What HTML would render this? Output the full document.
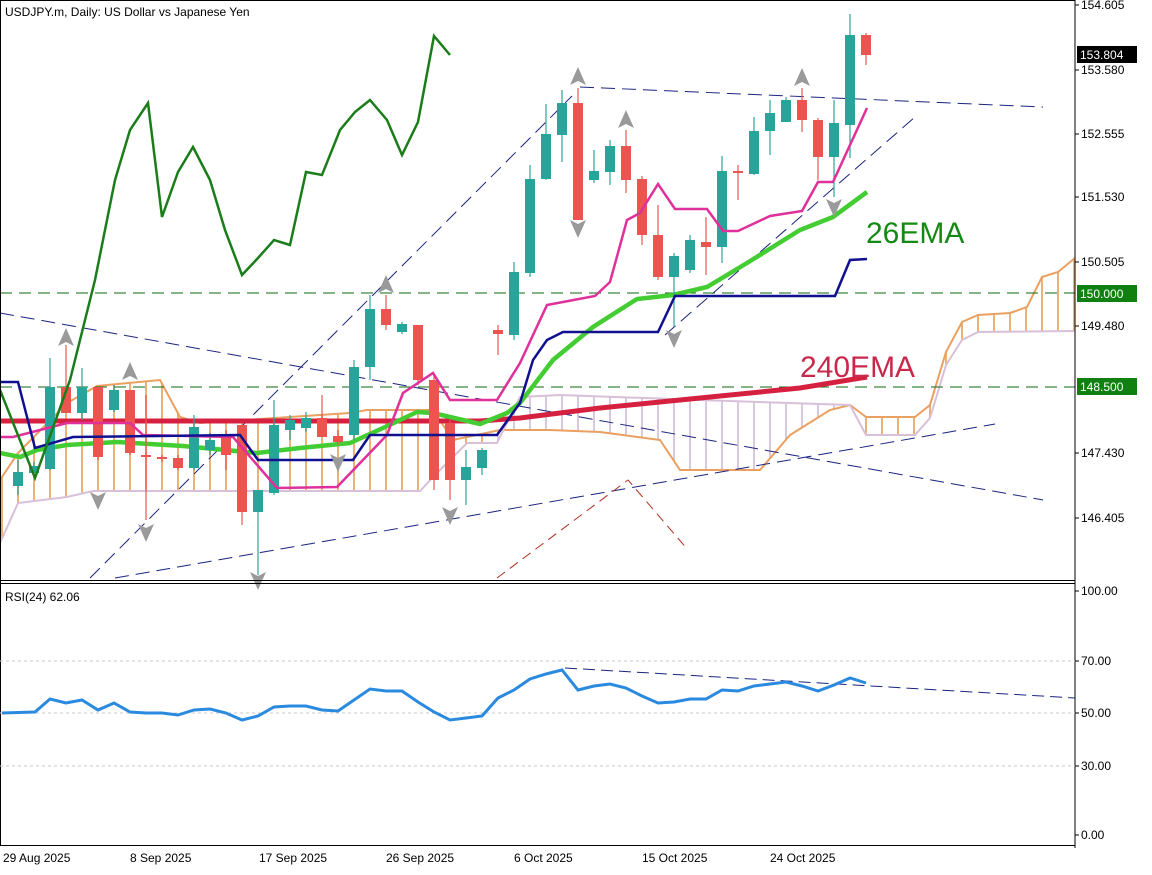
<!DOCTYPE html><html><head><meta charset="utf-8"><style>
body{margin:0;background:#fff;width:1152px;height:870px;overflow:hidden;font-family:"Liberation Sans",sans-serif}
svg text{font-family:"Liberation Sans",sans-serif}
</style></head><body>
<svg id="s" width="1152" height="870" xmlns="http://www.w3.org/2000/svg">
<rect x="0" y="0" width="1152" height="870" fill="#fff"/>
<g id="cloud"></g>
<g fill="none" stroke-dasharray="14,7" stroke="#1a237e" stroke-width="1">
<line x1="0" y1="313" x2="1043" y2="500"/>
<line x1="90" y1="578" x2="572" y2="96"/>
<line x1="665" y1="335" x2="915" y2="117"/>
<line x1="115" y1="578" x2="995" y2="424"/>
<line x1="580" y1="87" x2="1043" y2="107"/>
</g>
<polyline points="497,578 628,480 688,550" fill="none" stroke="#b03020" stroke-dasharray="10,6"/>
<g stroke="#0e6a0e" stroke-dasharray="12,7"><line x1="0" y1="293" x2="1075" y2="293"/><line x1="0" y1="387" x2="1075" y2="387"/></g>
<polyline fill="none" stroke="#d62040" stroke-width="5" points="0,421 480,421 520,418 600,408 700,398 800,388 867,377"/>
<polyline fill="none" stroke="#44cc33" stroke-width="4.5" points="0,453 20,457 37,450 67,445 117,442 183,446 257,453 300,448 350,443 383,428 417,412 433,413 480,424 507,413 520,403 553,360 593,327 637,299 673,295 707,287 747,263 800,230 833,217 867,192"/>
<g id="candles"></g>
<polyline fill="none" stroke="#e0309a" stroke-width="2.5" points="0,437 13,437 67,423 130,423 143,435 233,437 277,488 337,487 387,435 403,393 433,373 450,400 497,400 520,363 547,305 595,296 610,282 627,220 640,213 658,184 675,209 707,209 723,231 738,231 770,216 802,211 818,182 833,182 867,108"/>
<polyline fill="none" stroke="#101090" stroke-width="2.5" points="0,382 18,382 35,448 73,437 240,435 258,460 353,460 370,435 497,435 520,403 533,360 547,340 563,332 658,332 675,296 835,296 850,260 867,259"/>
<polyline fill="none" stroke="#1a7d1a" stroke-width="2.5" points="0,390 35,478 70,380 95,280 115,180 130,130 148,103 162,217 178,172 193,147 210,180 225,230 242,275 258,258 274,240 290,245 306,172 322,175 340,130 355,112 370,100 387,120 402,155 418,122 434,36 450,55"/>
<g id="arrows" fill="#9a9a9a"></g>
<text x="866" y="243" font-size="30" fill="#138a13">26EMA</text>
<text x="800" y="377" font-size="30" fill="#c8284a">240EMA</text>
<text x="5" y="16" font-size="12" fill="#000">USDJPY.m, Daily:  US Dollar vs Japanese Yen</text>
<line x1="1075" y1="0" x2="1075" y2="848" stroke="#000"/>
<line x1="0" y1="0.5" x2="1075" y2="0.5" stroke="#000"/>
<line x1="0.5" y1="0" x2="0.5" y2="845" stroke="#000"/>
<line x1="0" y1="580.5" x2="1075" y2="580.5" stroke="#000"/>
<line x1="0" y1="583.5" x2="1075" y2="583.5" stroke="#000"/>
<line x1="0" y1="845.5" x2="1075" y2="845.5" stroke="#000"/>
<g font-size="12" fill="#000" id="ax"></g>
<rect x="1077" y="46" width="60" height="17" fill="#000"/><text x="1080" y="59" font-size="12" fill="#fff">153.804</text>
<rect x="1077" y="285" width="60" height="17" fill="#108010"/><text x="1080" y="298" font-size="12" fill="#fff">150.000</text>
<rect x="1077" y="378" width="60" height="17" fill="#108010"/><text x="1080" y="391" font-size="12" fill="#fff">148.500</text>
<g stroke="#c8c8c8" stroke-dasharray="3,3"><line x1="0" y1="661" x2="1075" y2="661"/><line x1="0" y1="713" x2="1075" y2="713"/><line x1="0" y1="766" x2="1075" y2="766"/></g>
<text x="5" y="601" font-size="12">RSI(24) 62.06</text>
<line x1="565" y1="668" x2="1075" y2="698" stroke="#1a237e" stroke-dasharray="12,6"/>
<polyline fill="none" stroke="#2a8ae0" stroke-width="3" points="2,713 35,712 50,699 66,703 82,700 98,710 114,703 130,712 146,713 162,713 178,715 194,710 210,709 226,713 242,720 258,716 274,707 290,706 306,706 322,710 338,711 354,700 370,689 386,691 402,691 418,702 434,712 450,720 466,718 482,716 498,698 514,690 530,679 546,674 562,670 578,690 594,686 610,684 626,688 642,696 658,703 674,702 690,699 706,699 722,690 738,691 754,686 770,684 786,682 802,686 818,691 834,685 850,678 866,683"/>
<g font-size="12" fill="#000">
<text x="3" y="862">29 Aug 2025</text><text x="130" y="862">8 Sep 2025</text><text x="259" y="862">17 Sep 2025</text><text x="386" y="862">26 Sep 2025</text><text x="514" y="862">6 Oct 2025</text><text x="642" y="862">15 Oct 2025</text><text x="770" y="862">24 Oct 2025</text>
</g>
</svg>
<script>
var S="http://www.w3.org/2000/svg";
function el(p,t,a){var e=document.createElementNS(S,t);for(var k in a)e.setAttribute(k,a[k]);p.appendChild(e);return e;}
function interp(pts,x){for(var i=0;i<pts.length-1;i++){if(x>=pts[i][0]&&x<=pts[i+1][0]){var t=(x-pts[i][0])/(pts[i+1][0]-pts[i][0]);return pts[i][1]+t*(pts[i+1][1]-pts[i][1]);}}return pts[pts.length-1][1];}
var A=[[0,480],[18,453],[67,403],[97,386],[160,380],[180,417],[200,423],[350,413],[367,410],[433,410],[453,440],[500,430],[550,430],[600,432],[660,440],[680,470],[760,470],[790,435],[830,410],[850,405],[866,417],[915,417],[930,405],[946,352],[962,322],[978,315],[1010,313],[1027,307],[1042,277],[1058,272],[1075,258]];
var B=[[0,543],[18,503],[67,497],[93,491],[420,491],[437,473],[467,443],[497,443],[520,397],[560,395],[700,400],[850,405],[866,435],[915,435],[930,418],[946,365],[962,340],[978,332],[1075,331]];
var cg=document.getElementById("cloud");
for(var x=2;x<=1075;x+=16){var a=interp(A,x),b=interp(B,x);var c=(x>490&&x<860)?"#d8c8e0":"#f0b070";el(cg,"line",{x1:x,x2:x,y1:a,y2:b,stroke:c,"stroke-width":2});}
el(cg,"polyline",{points:A.map(function(p){return p.join(",")}).join(" "),fill:"none",stroke:"#eaa060","stroke-width":2});
el(cg,"polyline",{points:B.map(function(p){return p.join(",")}).join(" "),fill:"none",stroke:"#d8c0d8","stroke-width":2});
var C=[[18,1,472,486,460,495],[34,1,466,473,462,478],[50,1,387,469,358,470],[66,0,387,413,345,413],[82,1,387,413,368,420],[98,0,387,457,387,460],[114,1,390,410,385,412],[130,0,390,453,390,455],[146,0,455,457,395,520],[162,0,457,459,455,462],[178,0,458,468,455,470],[194,1,427,468,415,470],[210,1,440,450,433,455],[226,0,437,455,430,470],[242,0,425,512,425,525],[258,1,490,512,490,575],[274,1,425,493,400,495],[290,1,420,430,415,440],[306,1,418,428,412,432],[322,0,418,437,395,437],[338,0,436,442,430,445],[354,1,367,435,360,440],[370,1,309,367,295,380],[386,0,309,325,295,330],[402,1,324,332,322,334],[418,0,325,380,325,385],[434,0,380,480,375,490],[450,0,423,480,420,500],[466,1,467,480,450,505],[482,1,450,468,448,475],[498,0,330,334,325,355],[514,1,272,335,262,340],[530,1,179,273,165,277],[546,1,134,179,104,180],[562,1,103,135,90,162],[578,0,103,220,88,220],[594,1,171,180,150,183],[610,1,146,172,140,185],[626,0,146,180,130,193],[642,0,179,235,176,245],[658,0,235,277,205,280],[674,1,256,277,253,327],[690,1,240,270,235,273],[706,0,242,247,217,275],[722,1,171,247,156,263],[738,0,171,173,165,200],[754,1,131,174,117,175],[770,1,113,131,100,155],[786,1,100,122,97,122],[802,0,100,120,88,132],[818,0,120,157,118,180],[834,1,123,157,100,197],[850,1,35,125,14,158],[866,0,35,55,33,65]];
var g=document.getElementById("candles");
C.forEach(function(c){var col=c[1]?"#26a69a":"#ef5350";el(g,"line",{x1:c[0],x2:c[0],y1:c[4],y2:c[5],stroke:col,"stroke-width":1.2});el(g,"rect",{x:c[0]-5,y:c[2],width:10,height:Math.max(2,c[3]-c[2]),fill:col});});
var ag=document.getElementById("arrows");
[[66,338],[130,372],[386,285],[578,77],[626,120],[802,78]].forEach(function(p){el(ag,"polygon",{points:(p[0])+","+(p[1]-10)+" "+(p[0]-8)+","+(p[1]+8)+" "+p[0]+","+(p[1]+4)+" "+(p[0]+8)+","+(p[1]+8)});});
[[98,500],[146,532],[338,462],[450,515],[578,228],[674,338],[834,207],[258,580]].forEach(function(p){el(ag,"polygon",{points:(p[0])+","+(p[1]+10)+" "+(p[0]-8)+","+(p[1]-8)+" "+p[0]+","+(p[1]-4)+" "+(p[0]+8)+","+(p[1]-8)});});
var ax=document.getElementById("ax");
[["154.605",5],["153.580",70],["152.555",134],["151.530",197],["150.505",262],["149.480",326],["147.430",453],["146.405",518],["100.00",591],["70.00",661],["50.00",713],["30.00",766],["0.00",835]].forEach(function(l){el(ax,"line",{x1:1075,x2:1079,y1:l[1],y2:l[1],stroke:"#000"});var t=el(ax,"text",{x:1081,y:l[1]+4});t.textContent=l[0];});
</script>
</body></html>
